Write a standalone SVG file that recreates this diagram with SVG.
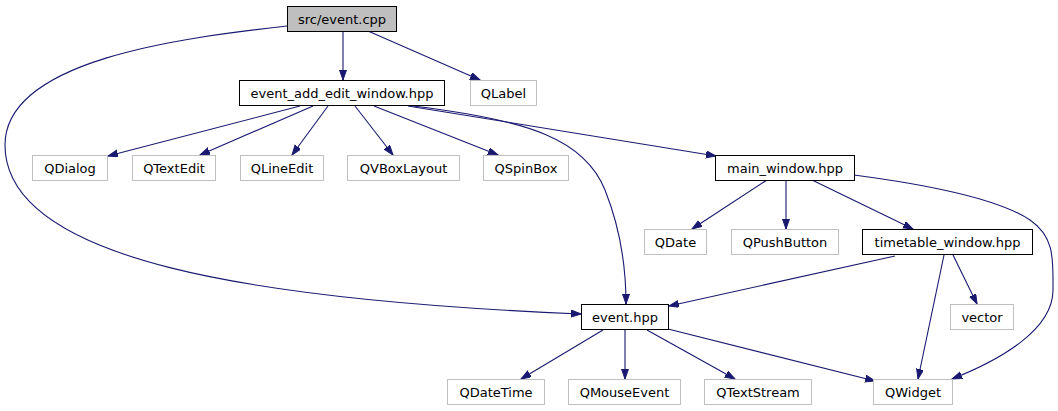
<svg xmlns="http://www.w3.org/2000/svg" width="1058" height="411" viewBox="0 0 1058 411">
<style>
.node rect{fill:#ffffff;stroke:#000000;stroke-width:1}
.node.ext rect{stroke:#bfbfbf}
.node.root rect{fill:#bfbfbf}
.node text{font-family:"DejaVu Sans",sans-serif;font-size:13px;fill:#000000;text-anchor:middle}
.edges path{fill:none;stroke:#191970;stroke-width:1.1;marker-end:url(#ah)}
</style>
<defs>
<marker id="ah" markerUnits="userSpaceOnUse" markerWidth="11" markerHeight="8" refX="10" refY="3.5" orient="auto">
<path d="M0,0 L10,3.5 L0,7 z" fill="#191970" stroke="#191970" stroke-width="1"/>
</marker>
</defs>
<rect width="1058" height="411" fill="#ffffff"/>
<g class="edges">
<path d="M343,31 L343,80"/>
<path d="M368,31 L480,80"/>
<path d="M287,26 C180,38 5,60 5,145 C5,260 250,300 581,314"/>
<path d="M300,106 L108,156"/>
<path d="M313,106 L200,155"/>
<path d="M328,106 L292,155"/>
<path d="M355,106 L393,155"/>
<path d="M374,106 L498,155"/>
<path d="M408,106 C500,121 600,137 716,156"/>
<path d="M413,106 C530,120 585,140 605,190 C613,210 626,250 626,304"/>
<path d="M767,180 L692,229"/>
<path d="M786,180 L786,229"/>
<path d="M812,180 L913,229"/>
<path d="M854,175 C930,185 1000,200 1030,220 C1055,237 1053,260 1053,290 C1053,330 1000,360 952,379"/>
<path d="M895,256 L669,306"/>
<path d="M944,255 L918,379"/>
<path d="M953,255 L977,304"/>
<path d="M603,330 L521,379"/>
<path d="M625,330 L625,379"/>
<path d="M647,330 L735,379"/>
<path d="M668,329 L875,381"/>
</g>
<g id="node_event_cpp" class="node root"><rect x="287.5" y="6.5" width="109" height="25"/><text x="342" y="23.5">src/event.cpp</text></g>
<g id="node_event_add_edit_window" class="node"><rect x="239.5" y="80.5" width="205" height="25"/><text x="342" y="97.5">event_add_edit_window.hpp</text></g>
<g id="node_QLabel" class="node ext"><rect x="470.5" y="80.5" width="66" height="25"/><text x="503.5" y="97.5">QLabel</text></g>
<g id="node_QDialog" class="node ext"><rect x="32.5" y="155.5" width="75" height="25"/><text x="70" y="172.5">QDialog</text></g>
<g id="node_QTextEdit" class="node ext"><rect x="132.5" y="155.5" width="83" height="25"/><text x="174" y="172.5">QTextEdit</text></g>
<g id="node_QLineEdit" class="node ext"><rect x="240.5" y="155.5" width="83" height="25"/><text x="282" y="172.5">QLineEdit</text></g>
<g id="node_QVBoxLayout" class="node ext"><rect x="347.5" y="155.5" width="112" height="25"/><text x="403.5" y="172.5">QVBoxLayout</text></g>
<g id="node_QSpinBox" class="node ext"><rect x="483.5" y="155.5" width="85" height="25"/><text x="526" y="172.5">QSpinBox</text></g>
<g id="node_main_window" class="node"><rect x="715.5" y="155.5" width="139" height="25"/><text x="785" y="172.5">main_window.hpp</text></g>
<g id="node_QDate" class="node ext"><rect x="644.5" y="229.5" width="62" height="25"/><text x="675.5" y="246.5">QDate</text></g>
<g id="node_QPushButton" class="node ext"><rect x="731.5" y="229.5" width="107" height="25"/><text x="785" y="246.5">QPushButton</text></g>
<g id="node_timetable_window" class="node"><rect x="862.5" y="229.5" width="170" height="25"/><text x="947.5" y="246.5">timetable_window.hpp</text></g>
<g id="node_event_hpp" class="node"><rect x="581.5" y="304.5" width="87" height="25"/><text x="625" y="321.5">event.hpp</text></g>
<g id="node_vector" class="node ext"><rect x="950.5" y="304.5" width="63" height="25"/><text x="982" y="321.5">vector</text></g>
<g id="node_QDateTime" class="node ext"><rect x="447.5" y="379.5" width="97" height="25"/><text x="496" y="396.5">QDateTime</text></g>
<g id="node_QMouseEvent" class="node ext"><rect x="568.5" y="379.5" width="112" height="25"/><text x="624.5" y="396.5">QMouseEvent</text></g>
<g id="node_QTextStream" class="node ext"><rect x="704.5" y="379.5" width="107" height="25"/><text x="758" y="396.5">QTextStream</text></g>
<g id="node_QWidget" class="node ext"><rect x="873.5" y="379.5" width="79" height="25"/><text x="913" y="396.5">QWidget</text></g>
</svg>
